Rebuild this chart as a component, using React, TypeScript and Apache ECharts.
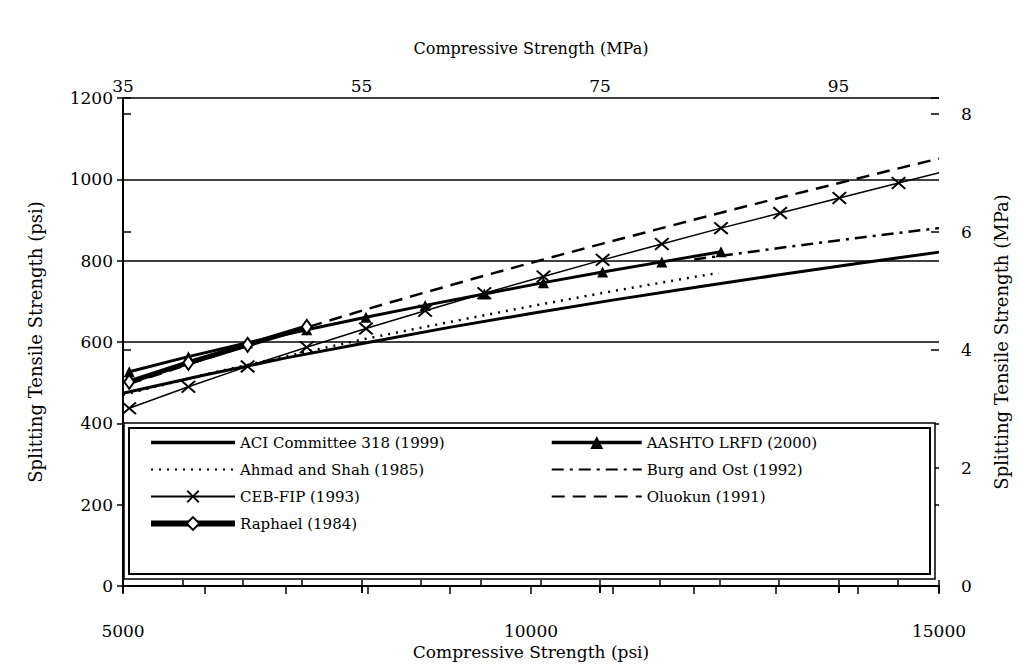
import React, { useEffect, useRef } from "react";
import * as echarts from "echarts";

const PSI_PER_MPA = 145.04;

// compression strength points (MPa) used by the curves with markers
const mpaPoints = [35, 40, 45, 50, 55, 60, 65, 70, 75, 80, 85, 90, 95, 100];

// ACI Committee 318 (1999) - psi abscissa
const aciPsi = [5000, 6000, 7000, 8000, 9000, 10000, 11000, 12000, 13000, 14000, 15000];
const aciValues = [474, 519, 561, 599, 636, 670, 703, 734, 764, 793, 821];

// AASHTO LRFD (2000) - MPa abscissa 35..85
const aashtoValues = [527, 564, 598, 630, 661, 690, 718, 746, 772, 797, 822];

// Ahmad and Shah (1985) - psi abscissa
const ahmadPsi = [5000, 6000, 7000, 8000, 9000, 10000, 11000, 12000, 12300];
const ahmadValues = [470, 520, 565, 609, 649, 688, 725, 760, 770];

// Burg and Ost (1992) - psi abscissa
const burgPsi = [12000, 13000, 14000, 15000];
const burgValues = [803, 830, 856, 880];

// CEB-FIP (1993) - MPa abscissa 35..100, then end of line at 15000 psi
const cebValues = [437, 490, 540, 587, 633, 677, 720, 761, 802, 841, 880, 917, 954, 991];
const cebEnd = 1016;

// Oluokun (1991) - MPa abscissa 35..100, then end of line at 15000 psi
const oluokunValues = [497, 545, 592, 636, 680, 722, 763, 803, 842, 880, 918, 955, 991, 1027];
const oluokunEnd = 1051;

// Raphael (1984) - MPa abscissa 35..50
const raphaelValues = [502, 549, 593, 637];

const xPsiTicks = [5000, 10000, 15000];
const topMpaLabels = [35, 55, 75, 95];
const rightMpaLabels = [0, 2, 4, 6, 8];

const FONT = "DejaVu Serif";
const X_PATH = "path://M0,1 L1,0 L5,4 L9,0 L10,1 L6,5 L10,9 L9,10 L5,6 L1,10 L0,9 L4,5 Z";

export default function App() {
  const ref = useRef<HTMLDivElement>(null);
  useEffect(() => {
    document.body.style.margin = "0";
    const chart = echarts.init(ref.current!, null, { renderer: "svg" });
    const toPsi = (m: number) => m * PSI_PER_MPA;
    const mpaSeries = (vals: number[]) => vals.map((v, i) => [toPsi(mpaPoints[i]), v]);
    const psiSeries = (xs: number[], vals: number[]) => xs.map((x, i) => [x, vals[i]]);
    const blk = "#000";
    const topMax = 15000 / PSI_PER_MPA - 35;
    const rightMax = 1200 / PSI_PER_MPA;
    const tick = { fontSize: 17, color: blk, fontFamily: FONT };
    const lgText = { fontSize: 15, color: blk, fontFamily: FONT };
    const noMark = { opacity: 0 };

    const option: any = {
      animation: false,
      backgroundColor: "#fff",
      textStyle: { fontFamily: FONT, color: blk },
      grid: { left: 123, right: 80, top: 98, bottom: 82, containLabel: false },
      xAxis: [
        {
          type: "value", position: "bottom", min: 5000, max: 15000, interval: 1000,
          axisLine: { show: true, lineStyle: { color: blk, width: 2 } },
          axisTick: { show: true, length: 8, lineStyle: { color: blk, width: 1.5 } },
          axisLabel: {
            ...tick, margin: 36,
            formatter: (v: number) => (xPsiTicks.includes(v) ? String(v) : ""),
          },
          splitLine: { show: false },
          name: "Compressive Strength (psi)", nameLocation: "middle", nameGap: 56,
          nameTextStyle: { fontSize: 17, color: blk, fontFamily: FONT },
        },
        {
          type: "value", position: "top", min: 0, max: topMax, interval: 5,
          axisLine: { show: true, lineStyle: { color: blk, width: 2 } },
          axisTick: { show: true, length: 6, lineStyle: { color: blk, width: 1.5 } },
          axisLabel: {
            ...tick, margin: 4,
            formatter: (v: number) => {
              const m = Math.round(v + 35);
              return Math.abs(v + 35 - m) < 1e-6 && topMpaLabels.includes(m) ? String(m) : "";
            },
          },
          splitLine: { show: false },
          name: "Compressive Strength (MPa)", nameLocation: "middle", nameGap: 42,
          nameTextStyle: { fontSize: 16, color: blk, fontFamily: FONT },
        },
        {
          type: "value", position: "top", min: 0, max: topMax, interval: 20,
          axisLine: { show: false },
          axisTick: { show: true, inside: true, length: 7, lineStyle: { color: blk, width: 2 } },
          axisLabel: { show: false },
          splitLine: { show: false },
        },
      ],
      yAxis: [
        {
          type: "value", position: "left", min: 0, max: 1200, interval: 200,
          axisLine: { show: true, lineStyle: { color: blk, width: 2 } },
          axisTick: { show: true, length: 6, lineStyle: { color: blk, width: 1.5 } },
          axisLabel: { ...tick, margin: 10, formatter: (v: number) => String(v) },
          splitLine: { show: true, lineStyle: { color: blk, width: 1.5 } },
          name: "Splitting Tensile Strength (psi)", nameLocation: "middle", nameGap: 79, nameRotate: 90,
          nameTextStyle: { fontSize: 18, color: blk, fontFamily: FONT },
        },
        {
          type: "value", position: "right", min: 0, max: rightMax, interval: 2,
          axisLine: { show: true, lineStyle: { color: blk, width: 2 } },
          axisTick: { show: true, length: 8, lineStyle: { color: blk, width: 1.5 } },
          axisLabel: {
            ...tick, margin: 22,
            formatter: (v: number) => (rightMpaLabels.includes(v) ? String(v) : ""),
          },
          splitLine: { show: false },
          name: "Splitting Tensile Strength (MPa)", nameLocation: "middle", nameGap: 53, nameRotate: 90,
          nameTextStyle: { fontSize: 18, color: blk, fontFamily: FONT },
        },
        {
          type: "value", position: "right", min: 0, max: rightMax, interval: 2,
          axisLine: { show: false },
          axisTick: { show: true, inside: true, length: 8, lineStyle: { color: blk, width: 1.5 } },
          axisLabel: { show: false },
          splitLine: { show: false },
        },
      ],
      legend: [
        {
          left: 148, top: 435, orient: "vertical", itemWidth: 84, itemHeight: 16, itemGap: 12,
          padding: 0, textStyle: lgText,
          data: [
            { name: "ACI Committee 318 (1999)", itemStyle: noMark, lineStyle: { width: 3.5 } },
            { name: "Ahmad and Shah (1985)", itemStyle: noMark, lineStyle: { width: 2 } },
            { name: "CEB-FIP (1993)", lineStyle: { width: 2 } },
            { name: "Raphael (1984)", lineStyle: { width: 6 } },
          ],
        },
        {
          left: 550, top: 435, orient: "vertical", itemWidth: 90, itemHeight: 16, itemGap: 12,
          padding: 0, textStyle: lgText,
          data: [
            { name: "AASHTO LRFD (2000)", lineStyle: { width: 3.5 } },
            { name: "Burg and Ost (1992)", itemStyle: noMark, lineStyle: { width: 2 } },
            { name: "Oluokun (1991)", itemStyle: noMark, lineStyle: { width: 2 } },
          ],
        },
      ],
      graphic: [
        {
          type: "rect", z: 3, shape: { x: 124, y: 423, width: 811, height: 156 },
          style: { fill: "#fff", stroke: blk, lineWidth: 1.5 },
        },
        {
          type: "rect", z: 3, shape: { x: 129, y: 428, width: 801, height: 146 },
          style: { fill: "none", stroke: blk, lineWidth: 2 },
        },
      ],
      series: [
        {
          name: "ACI Committee 318 (1999)", type: "line", data: psiSeries(aciPsi, aciValues),
          showSymbol: false, symbol: "none", lineStyle: { color: blk, width: 3 }, itemStyle: { color: blk },
        },
        {
          name: "AASHTO LRFD (2000)", type: "line", data: mpaSeries(aashtoValues),
          symbol: "triangle", symbolSize: 11, lineStyle: { color: blk, width: 3 }, itemStyle: { color: blk },
        },
        {
          name: "Ahmad and Shah (1985)", type: "line", data: psiSeries(ahmadPsi, ahmadValues),
          symbol: "none", lineStyle: { color: blk, width: 2.5, type: [2, 6] }, itemStyle: { color: blk },
        },
        {
          name: "Burg and Ost (1992)", type: "line", data: psiSeries(burgPsi, burgValues),
          symbol: "none", lineStyle: { color: blk, width: 2.5, type: [12, 6, 3, 6] }, itemStyle: { color: blk },
        },
        {
          name: "CEB-FIP (1993)", type: "line",
          data: [...mpaSeries(cebValues), { value: [15000, cebEnd], symbol: "none" }],
          symbol: X_PATH, symbolSize: [15, 13], lineStyle: { color: blk, width: 1.5 },
          itemStyle: { color: blk },
        },
        {
          name: "Oluokun (1991)", type: "line",
          data: [...mpaSeries(oluokunValues), [15000, oluokunEnd]],
          symbol: "none", lineStyle: { color: blk, width: 2.5, type: [13, 8] }, itemStyle: { color: blk },
        },
        {
          name: "Raphael (1984)", type: "line", data: mpaSeries(raphaelValues),
          symbol: "diamond", symbolSize: [10, 14], lineStyle: { color: blk, width: 5 },
          itemStyle: { color: "#fff", borderColor: blk, borderWidth: 2 },
        },
      ],
    };
    chart.setOption(option);
    return () => chart.dispose();
  }, []);
  return <div ref={ref} style={{ width: 1019, height: 668 }} />;
}
